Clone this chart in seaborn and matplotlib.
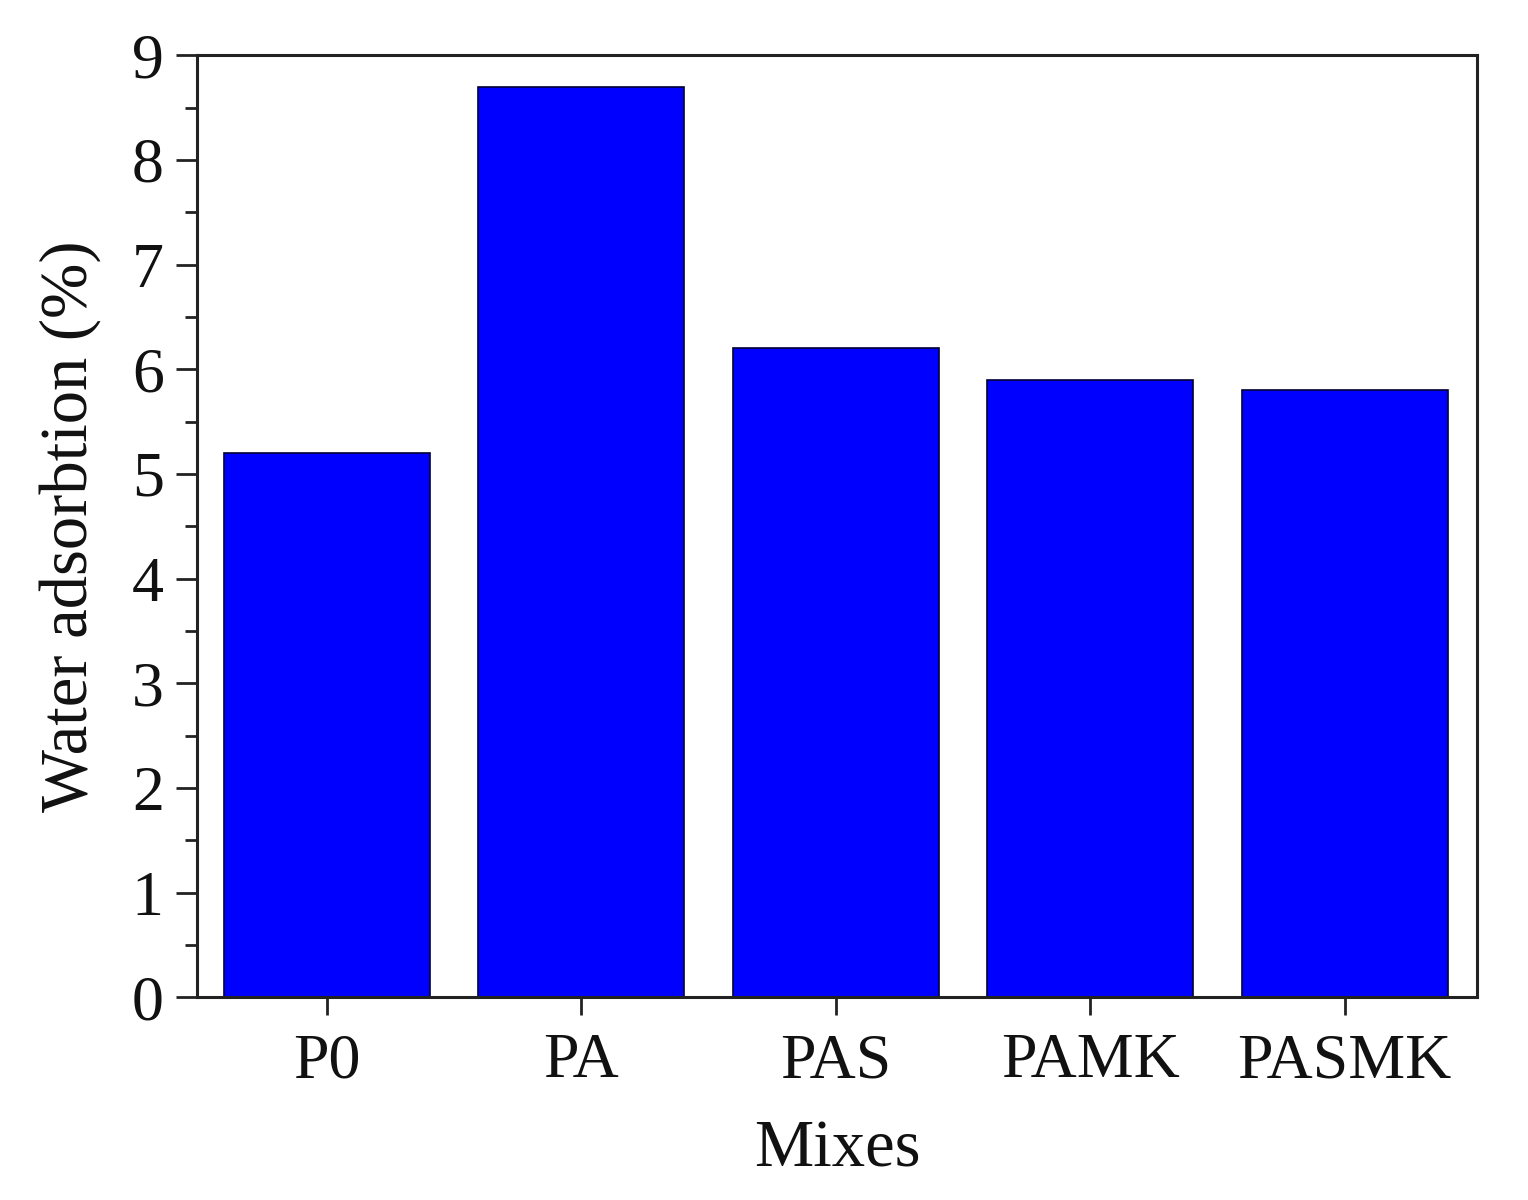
import pandas as pd
import matplotlib.pyplot as plt
import seaborn as sns
from matplotlib.ticker import MultipleLocator

sns.set_theme(style="ticks")
plt.rcParams['font.family'] = ['Liberation Serif', 'DejaVu Serif']

mixes = ['P0', 'PA', 'PAS', 'PAMK', 'PASMK']
water_adsorption = [5.2, 8.7, 6.2, 5.9, 5.8]

df = pd.DataFrame({'Mixes': mixes, 'Water adsorbtion (%)': water_adsorption})

fig = plt.figure(figsize=(15.28, 12), dpi=100)
ax = fig.add_axes([0.129, 0.169, 0.8376, 0.785])

sns.barplot(data=df, x='Mixes', y='Water adsorbtion (%)', color='#0000FF',
            saturation=1, width=0.81, edgecolor='#000033', linewidth=1.2, ax=ax)

ax.set_xlim(-0.51, 4.52)
ax.set_ylim(0, 9)
ax.yaxis.set_major_locator(MultipleLocator(1))
ax.yaxis.set_minor_locator(MultipleLocator(0.5))

for side in ['left', 'bottom', 'top', 'right']:
    ax.spines[side].set_linewidth(2.2)
    ax.spines[side].set_color('#222222')

ax.tick_params(axis='y', which='major', direction='out', length=15, width=2, pad=9,
               labelsize=46, color='#222222', labelcolor='#111111')
ax.tick_params(axis='y', which='minor', direction='out', length=8.5, width=2, color='#222222')
ax.tick_params(axis='x', which='major', direction='out', length=13, width=2, pad=13,
               labelsize=46, color='#222222', labelcolor='#111111')

ax.set_xlabel('Mixes', fontsize=48, labelpad=20, color='#111111')
ax.set_ylabel('Water adsorbtion (%)', fontsize=48, labelpad=22, color='#111111')

fig.savefig('out.png', dpi=100)
